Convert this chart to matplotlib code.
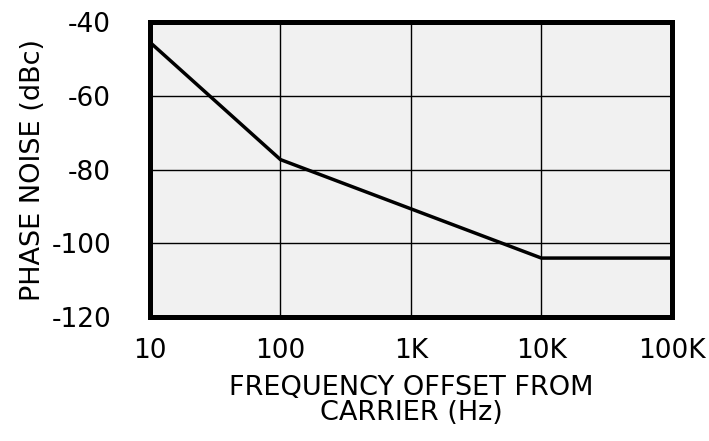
import matplotlib
matplotlib.use('Agg')
import matplotlib.pyplot as plt

# curve (log x axis)
freq_hz = [10, 100, 10000, 100000]
noise_dbc = [-45.5, -77.3, -104.0, -104.0]

x_ticks = [10, 100, 1000, 10000, 100000]
x_labels = ['10', '100', '1K', '10K', '100K']
y_ticks = [-120, -100, -80, -60, -40]

plt.rcParams['font.family'] = ['DejaVu Sans']
plt.rcParams['axes.unicode_minus'] = False

fig = plt.figure(figsize=(7.09, 4.41), dpi=100)
ax = fig.add_axes([0.2116, 0.281, 0.736, 0.669])
ax.set_facecolor('#f1f1f1')

ax.plot(freq_hz, noise_dbc, color='black', linewidth=2.5, zorder=3)

ax.set_xscale('log')
ax.set_xlim(10, 100000)
ax.set_ylim(-120, -40)
ax.set_xticks(x_ticks)
ax.set_xticklabels(x_labels)
ax.minorticks_off()
ax.set_yticks(y_ticks)
ax.tick_params(axis='both', length=0, labelsize=19)
ax.tick_params(axis='x', pad=15)
ax.tick_params(axis='y', pad=28)

ax.grid(True, color='black', linewidth=1.0, zorder=1)
for s in ax.spines.values():
    s.set_linewidth(3.6)
    s.set_zorder(4)

ax.set_ylabel('PHASE NOISE (dBc)', fontsize=19.5, labelpad=4)
ax.set_xlabel('FREQUENCY OFFSET FROM\nCARRIER (Hz)', fontsize=19.5, labelpad=8,
              linespacing=0.95)

fig.savefig('out.png', dpi=100)
